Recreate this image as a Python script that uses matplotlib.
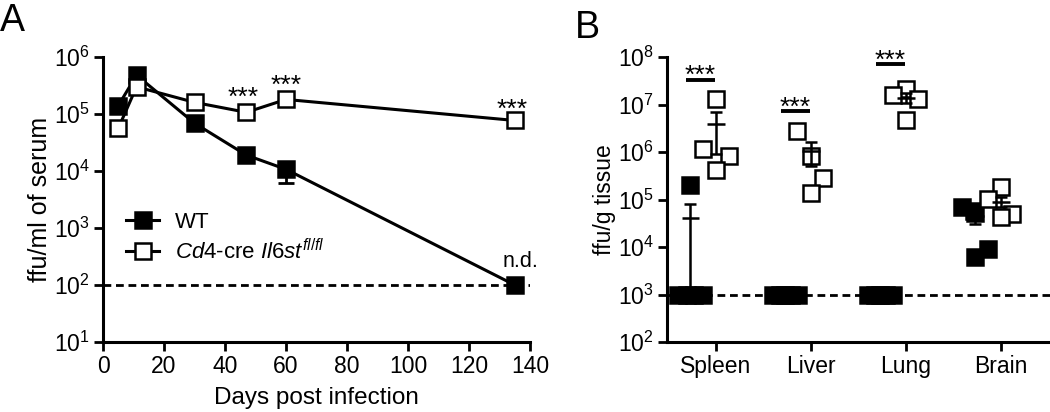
import numpy as np
import matplotlib
matplotlib.use("Agg")
import matplotlib.pyplot as plt
from matplotlib.ticker import FixedLocator, FuncFormatter, NullLocator

plt.rcParams['font.family'] = ['Liberation Sans', 'DejaVu Sans']
plt.rcParams['mathtext.fontset'] = 'custom'
plt.rcParams['mathtext.rm'] = 'Liberation Sans'
plt.rcParams['mathtext.it'] = 'Liberation Sans:italic'
plt.rcParams['mathtext.bf'] = 'Liberation Sans:bold'

# ---------------- Panel A data ----------------
days = [5, 11, 30, 47, 60, 135]
wt_serum = [1.4e5, 4.8e5, 6.9e4, 1.9e4, 1.07e4, 1e2]
wt_serum_err_low = [0, 0, 0, 0, 4.5e3, 0]
ko_serum = [5.6e4, 3.0e5, 1.6e5, 1.07e5, 1.8e5, 7.7e4]
serum_limit = 1e2
star_days = [46, 60, 134]
star_y = [1.45e5, 2.35e5, 8.9e4]
nd_day = 137
nd_y = 2.1e2
xticks_A = [0, 20, 40, 60, 80, 100, 120, 140]
yticks_A = [1, 2, 3, 4, 5, 6]

# ---------------- Panel B data ----------------
organs = ['Spleen', 'Liver', 'Lung', 'Brain']
spleen_wt = [2e5, 1e3, 1e3, 1e3, 1e3]
liver_wt = [1e3, 1e3, 1e3, 1e3, 1e3]
lung_wt = [1e3, 1e3, 1e3, 1e3, 1e3]
brain_wt = [6.9e4, 5.7e4, 5.2e4, 9.1e3, 6.2e3]
spleen_ko = [1.3e7, 1.15e6, 8.3e5, 4.2e5]
liver_ko = [2.75e6, 8.3e5, 2.8e5, 1.35e5]
lung_ko = [2.1e7, 1.58e7, 1.3e7, 4.7e6]
brain_ko = [1.8e5, 1.02e5, 4.9e4, 4.3e4]
wt_mean = [4.1e4, 1e3, 1e3, 4.4e4]
wt_sem = [4.0e4, 0, 0, 1.4e4]
ko_mean = [3.9e6, 1.05e6, 1.4e7, 9.0e4]
ko_sem = [3.0e6, 5.5e5, 3.5e6, 2.2e4]
sig_y = [3.3e7, 7.3e6, 7.1e7]
tissue_limit = 1e3
yticks_B = [2, 3, 4, 5, 6, 7, 8]

# layout (jitter offsets, in category units)
wt_shift = -0.27
spleen_wt_dx = [0.0, -0.13, -0.04, 0.04, 0.13]
liver_wt_dx = [-0.13, -0.06, 0.0, 0.06, 0.13]
lung_wt_dx = [-0.13, -0.06, 0.0, 0.06, 0.13]
brain_wt_dx = [-0.14, -0.01, 0.0, 0.13, 0.0]
spleen_ko_dx = [0.0, -0.14, 0.14, 0.0]
liver_ko_dx = [-0.15, 0.0, 0.13, 0.0]
lung_ko_dx = [0.0, -0.14, 0.13, 0.0]
brain_ko_dx = [0.0, -0.14, 0.12, 0.0]

W, H = 1050, 412
fig = plt.figure(figsize=(W / 100, H / 100), dpi=100)
axA = fig.add_axes([103 / W, 70 / H, 427 / W, 285 / H])
axB = fig.add_axes([667 / W, 70 / H, 383 / W, 285 / H])

LW = 2.2
MS = 12
MEW = 1.8
TICK_FS = 16.5


def style(ax):
    ax.set_yscale('log')
    for s in ['top', 'right']:
        ax.spines[s].set_visible(False)
    for s in ['left', 'bottom']:
        ax.spines[s].set_linewidth(LW)
    ax.tick_params(axis='both', which='major', direction='out', length=6.5,
                   width=2, labelsize=TICK_FS, pad=3, color='black')
    ax.yaxis.set_minor_locator(NullLocator())
    ax.yaxis.set_major_formatter(FuncFormatter(
        lambda v, p: r'$\mathregular{10^{%d}}$' % int(round(np.log10(v)))))


# ---------------- Panel A ----------------
style(axA)
axA.set_xlim(0, 140)
axA.set_ylim(10 ** yticks_A[0], 10 ** yticks_A[-1])
axA.yaxis.set_major_locator(FixedLocator([10 ** k for k in yticks_A]))
axA.set_xticks(xticks_A)
axA.axhline(serum_limit, color='black', lw=2, ls=(0, (2.8, 1.7)), zorder=1)
axA.errorbar(days, wt_serum, yerr=[wt_serum_err_low, [0] * len(days)],
             fmt='none', ecolor='black', elinewidth=2, capsize=5.8, capthick=2,
             zorder=2)
axA.plot(days, wt_serum, color='black', lw=LW, marker='s', ms=MS, mew=MEW,
         mfc='black', mec='black', zorder=3, clip_on=False,
         label='WT')
axA.plot(days, ko_serum, color='black', lw=LW, marker='s', ms=MS, mew=MEW,
         mfc='white', mec='black', zorder=4, clip_on=False,
         label=r'$\mathit{Cd4}$-cre $\mathit{Il6st}^{\mathit{fl/fl}}$')
for d, y in zip(star_days, star_y):
    axA.text(d, y, '***', ha='center', va='baseline', fontsize=19)
axA.text(nd_day, nd_y, 'n.d.', ha='center', va='baseline', fontsize=15.5,
         clip_on=False)
axA.set_xlabel('Days post infection', fontsize=17.5, labelpad=6)
axA.set_ylabel('ffu/ml of serum', fontsize=18, labelpad=1)
leg = axA.legend(loc='center left', bbox_to_anchor=(0.054, 0.365),
                 frameon=False, fontsize=16, handlelength=1.5,
                 handletextpad=0.7, labelspacing=0.25, borderpad=0,
                 borderaxespad=0)

# ---------------- Panel B ----------------
style(axB)
axB.set_xlim(-0.516, 3.516)
axB.set_ylim(10 ** yticks_B[0], 10 ** yticks_B[-1])
axB.yaxis.set_major_locator(FixedLocator([10 ** k for k in yticks_B]))
axB.set_xticks(range(len(organs)))
axB.set_xticklabels(organs)
axB.axhline(tissue_limit, color='black', lw=2, ls=(0, (2.8, 1.7)), zorder=1)

wt_groups = [(spleen_wt, spleen_wt_dx), (liver_wt, liver_wt_dx),
             (lung_wt, lung_wt_dx), (brain_wt, brain_wt_dx)]
ko_groups = [(spleen_ko, spleen_ko_dx), (liver_ko, liver_ko_dx),
             (lung_ko, lung_ko_dx), (brain_ko, brain_ko_dx)]
for i, (vals, dx) in enumerate(wt_groups):
    xs = [i + wt_shift + d for d in dx]
    axB.plot(xs, vals, ls='none', marker='s', ms=MS, mew=MEW, mfc='black',
             mec='black', zorder=3)
for i, (vals, dx) in enumerate(ko_groups):
    xs = [i + d for d in dx]
    axB.plot(xs, vals, ls='none', marker='s', ms=MS, mew=MEW, mfc='white',
             mec='black', zorder=3)

xw = [i + wt_shift for i in range(len(organs))]
xk = [i for i in range(len(organs))]
axB.errorbar(xw, wt_mean, yerr=wt_sem, fmt='none', ecolor='black',
             elinewidth=1.8, capsize=4, capthick=1.8, zorder=4)
axB.errorbar(xk, ko_mean, yerr=ko_sem, fmt='none', ecolor='black',
             elinewidth=1.8, capsize=4, capthick=1.8, zorder=4)
axB.hlines(wt_mean, [x - 0.09 for x in xw], [x + 0.09 for x in xw],
           colors='black', lw=1.8, zorder=4)
axB.hlines(ko_mean, [x - 0.09 for x in xk], [x + 0.09 for x in xk],
           colors='black', lw=1.8, zorder=4)

for i, y in enumerate(sig_y):
    axB.plot([i - 0.32, i - 0.01], [y, y], color='black', lw=2.8,
             solid_capstyle='butt', zorder=4)
    axB.annotate('***', (i - 0.165, y), xytext=(0, -2.5),
                 textcoords='offset points', ha='center', va='baseline',
                 fontsize=19)
axB.set_ylabel('ffu/g tissue', fontsize=16.5, labelpad=1)

fig.text(0 / W, 1 - 3 / H, 'A', ha='left', va='top', fontsize=27)
fig.text(575 / W, 1 - 10 / H, 'B', ha='left', va='top', fontsize=27)

fig.savefig('out.png', dpi=100)
